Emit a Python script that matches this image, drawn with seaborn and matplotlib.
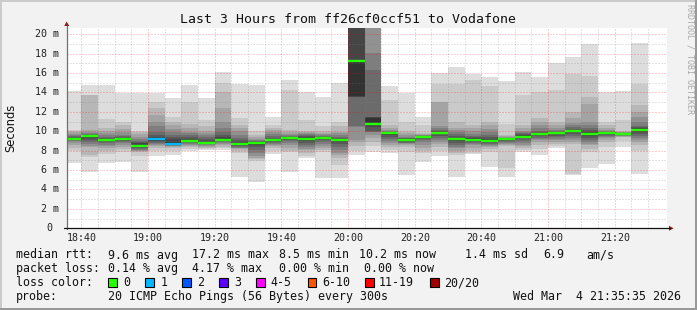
import numpy as np
import matplotlib
matplotlib.use("Agg")
import matplotlib.pyplot as plt
from matplotlib.patches import Rectangle, Polygon
from matplotlib.lines import Line2D
import matplotlib.transforms as mtrans
import seaborn as sns

# ---------------- data ----------------
title = "Last 3 Hours from ff26cf0ccf51 to Vodafone"

bar_end = ["18:40", "18:45", "18:50", "18:55", "19:00", "19:05", "19:10", "19:15",
           "19:20", "19:25", "19:30", "19:35", "19:40", "19:45", "19:50", "19:55",
           "20:00", "20:05", "20:10", "20:15", "20:20", "20:25", "20:30", "20:35",
           "20:40", "20:45", "20:50", "20:55", "21:00", "21:05", "21:10", "21:15",
           "21:20", "21:25", "21:30"]

# 20 sorted ping RTTs (ms) per 5-minute interval
pings_sorted = [
    [6.7, 8.0, 8.3, 8.6, 8.8, 8.95, 9.05, 9.1, 9.15, 9.18, 9.25, 9.3, 9.4, 9.5, 9.6, 9.75, 9.9, 10.0, 10.1, 14.16],
    [5.85, 7.4, 7.6, 8.4, 8.5, 8.7, 8.9, 9.1, 9.3, 9.5, 9.58, 9.6, 9.65, 9.7, 9.8, 9.95, 10.1, 13.7, 13.75, 14.77],
    [6.7, 7.7, 8.0, 8.3, 8.45, 8.6, 8.8, 8.9, 9.0, 9.1, 9.2, 9.25, 9.35, 9.45, 9.6, 9.8, 10.0, 10.3, 11.25, 14.77],
    [6.87, 7.9, 8.2, 8.4, 8.6, 8.8, 8.9, 9.0, 9.1, 9.15, 9.25, 9.3, 9.4, 9.5, 9.6, 9.9, 10.2, 10.65, 11.0, 13.92],
    [5.77, 7.5, 7.9, 7.95, 8.0, 8.1, 8.2, 8.3, 8.4, 8.45, 8.6, 8.8, 8.9, 9.0, 9.2, 9.4, 9.7, 9.9, 10.0, 13.92],
    [7.5, 8.0, 8.3, 8.5, 8.6, 8.7, 8.8, 8.9, 9.0, 9.1, 9.3, 9.4, 9.62, 9.9, 10.5, 11.0, 11.68, 12.37, 13.06, 13.92],
    [7.56, 8.0, 8.3, 8.4, 8.45, 8.5, 8.55, 8.6, 8.65, 8.7, 8.9, 9.2, 9.4, 9.6, 9.9, 10.2, 10.6, 11.0, 11.5, 13.4],
    [7.97, 8.2, 8.35, 8.5, 8.6, 8.7, 8.8, 8.85, 8.9, 8.95, 9.1, 9.25, 9.4, 9.6, 9.8, 9.96, 10.3, 10.8, 13.0, 14.77],
    [8.06, 8.2, 8.3, 8.4, 8.5, 8.6, 8.65, 8.7, 8.75, 8.8, 8.9, 9.0, 9.2, 9.4, 9.6, 9.8, 10.0, 10.5, 11.2, 13.4],
    [8.05, 8.25, 8.4, 8.6, 8.7, 8.8, 8.9, 8.95, 9.0, 9.05, 9.2, 9.4, 9.6, 9.9, 10.3, 11.0, 12.4, 14.1, 14.95, 16.08],
    [5.32, 7.8, 8.0, 8.15, 8.25, 8.3, 8.4, 8.5, 8.6, 8.7, 8.8, 8.9, 9.1, 9.3, 9.6, 10.0, 10.3, 10.65, 11.34, 14.84],
    [4.8, 6.9, 7.1, 7.25, 7.5, 7.8, 8.1, 8.4, 8.6, 8.75, 8.87, 8.9, 8.95, 9.0, 9.1, 9.2, 9.4, 9.6, 10.0, 14.77],
    [7.7, 8.0, 8.3, 8.5, 8.6, 8.7, 8.8, 8.9, 9.0, 9.05, 9.15, 9.25, 9.35, 9.5, 9.7, 9.9, 10.1, 10.3, 10.65, 11.51],
    [5.84, 7.9, 8.0, 8.3, 8.6, 8.8, 9.0, 9.1, 9.2, 9.3, 9.37, 9.4, 9.45, 9.5, 9.6, 9.75, 9.9, 10.1, 14.26, 15.29],
    [7.2, 7.5, 7.8, 8.1, 8.2, 8.4, 8.6, 8.8, 9.0, 9.15, 9.3, 9.4, 9.5, 9.6, 9.7, 9.8, 9.9, 10.0, 11.2, 14.1],
    [5.15, 7.9, 8.1, 8.3, 8.5, 8.7, 8.9, 9.1, 9.2, 9.3, 9.4, 9.42, 9.45, 9.5, 9.6, 9.7, 9.8, 10.0, 10.5, 13.57],
    [5.22, 6.5, 7.2, 7.6, 7.8, 8.1, 8.4, 8.7, 8.9, 9.05, 9.15, 9.25, 9.35, 9.45, 9.6, 9.8, 9.96, 10.5, 10.93, 14.95],
    [7.6, 8.0, 8.5, 8.9, 9.1, 10.45, 10.5, 13.5, 13.55, 13.6, 17.3, 21.5, 22.0, 22.5, 23.0, 23.5, 24.0, 24.5, 25.0, 26.0],
    [7.9, 8.5, 8.9, 9.3, 9.6, 9.9, 9.95, 10.0, 10.4, 10.6, 11.4, 11.45, 11.5, 16.3, 18.1, 21.5, 22.0, 22.5, 23.0, 24.0],
    [7.8, 8.1, 8.4, 8.6, 8.8, 9.0, 9.2, 9.4, 9.6, 9.8, 9.88, 9.9, 9.93, 9.96, 10.0, 10.1, 10.3, 10.65, 13.2, 14.67],
    [5.5, 7.9, 8.4, 8.6, 8.7, 8.75, 8.8, 8.9, 9.0, 9.1, 9.2, 9.25, 9.3, 9.35, 9.45, 9.6, 9.8, 10.0, 11.0, 13.98],
    [6.8, 7.73, 8.0, 8.3, 8.6, 8.9, 9.1, 9.2, 9.35, 9.4, 9.47, 9.5, 9.52, 9.55, 9.6, 9.65, 9.7, 9.8, 10.65, 11.51],
    [7.5, 8.0, 8.4, 8.7, 8.9, 9.1, 9.3, 9.5, 9.7, 9.8, 9.9, 9.95, 10.0, 10.1, 10.3, 10.5, 13.0, 13.06, 14.84, 15.98],
    [5.32, 7.56, 7.8, 8.0, 8.25, 8.4, 8.6, 8.8, 9.0, 9.2, 9.3, 9.35, 9.5, 9.7, 9.9, 10.1, 10.3, 10.93, 14.84, 16.66],
    [7.65, 7.8, 8.0, 8.3, 8.6, 8.7, 8.8, 8.9, 9.0, 9.1, 9.2, 9.3, 9.4, 9.5, 9.7, 10.0, 10.3, 10.65, 15.29, 15.87],
    [6.35, 7.9, 8.2, 8.4, 8.5, 8.6, 8.7, 8.8, 8.9, 8.95, 9.1, 9.2, 9.4, 9.6, 9.9, 10.2, 10.6, 11.0, 14.67, 15.63],
    [5.32, 6.18, 8.5, 8.6, 8.7, 8.8, 8.9, 9.0, 9.1, 9.15, 9.2, 9.22, 9.25, 9.3, 9.35, 9.4, 9.5, 9.62, 10.76, 15.19],
    [7.9, 8.1, 8.3, 8.45, 8.6, 8.8, 9.0, 9.2, 9.3, 9.4, 9.5, 9.6, 9.7, 9.8, 9.9, 10.0, 10.3, 10.65, 13.74, 16.08],
    [7.56, 8.2, 8.6, 8.9, 9.1, 9.2, 9.35, 9.5, 9.6, 9.7, 9.8, 9.85, 9.9, 10.0, 10.3, 10.6, 11.0, 11.34, 14.1, 15.63],
    [8.25, 8.5, 8.7, 8.9, 9.1, 9.25, 9.4, 9.55, 9.7, 9.8, 9.9, 9.92, 9.95, 10.0, 10.1, 10.3, 10.6, 11.0, 14.26, 17.0],
    [5.5, 5.6, 8.7, 8.9, 9.1, 9.3, 9.5, 9.7, 9.9, 10.0, 10.1, 10.15, 10.25, 10.4, 10.65, 10.9, 11.4, 12.0, 15.87, 17.7],
    [6.25, 7.9, 8.2, 8.6, 8.7, 8.9, 9.1, 9.3, 9.5, 9.7, 9.85, 9.95, 10.1, 10.3, 10.6, 11.0, 12.8, 13.57, 15.73, 18.97],
    [6.6, 8.4, 8.9, 9.1, 9.3, 9.4, 9.5, 9.6, 9.7, 9.8, 9.87, 9.9, 9.92, 9.95, 10.0, 10.1, 10.3, 10.6, 11.0, 14.1],
    [8.4, 9.0, 9.4, 9.45, 9.5, 9.55, 9.6, 9.65, 9.7, 9.74, 9.78, 9.79, 9.8, 9.82, 9.85, 9.9, 9.95, 10.0, 11.2, 14.16],
    [5.56, 8.0, 8.6, 8.9, 9.1, 9.3, 9.5, 9.7, 9.9, 10.1, 10.25, 10.3, 10.4, 10.5, 11.0, 11.5, 12.0, 12.7, 14.84, 19.07],
]

median_rtt = [9.2, 9.55, 9.14, 9.25, 8.52, 9.25, 8.71, 9.02, 8.83, 9.1, 8.73, 8.83, 9.1,
              9.35, 9.2, 9.35, 9.1, 17.2, 10.8, 9.86, 9.14, 9.45, 9.86, 9.24, 9.14, 9.0,
              9.17, 9.45, 9.76, 9.86, 10.03, 9.76, 9.83, 9.76, 10.17]

loss_count = [0, 0, 0, 0, 0, 1, 1, 0, 0, 0, 0, 0, 0, 0, 0, 0, 0, 0, 0, 0, 0, 0, 0, 0,
              0, 0, 0, 0, 0, 0, 0, 0, 0, 0, 0]

window_start = "18:35:35"
window_end = "21:35:35"
xtick_labels = ["18:40", "19:00", "19:20", "19:40", "20:00", "20:20", "20:40", "21:00", "21:20"]
ytick_values = [0, 2, 4, 6, 8, 10, 12, 14, 16, 18, 20]
ytick_labels = ["0", "2 m", "4 m", "6 m", "8 m", "10 m", "12 m", "14 m", "16 m", "18 m", "20 m"]
y_top = 20.68

loss_labels = ["0", "1", "2", "3", "4-5", "6-10", "11-19", "20/20"]
loss_colors = ["#26ff00", "#00b8ff", "#0059ff", "#5e00ff", "#ff00ff", "#ff5500", "#ff0000", "#a00000"]

rtt_items = ["9.6 ms avg", "17.2 ms max", "8.5 ms min", "10.2 ms now", "1.4 ms sd", "6.9", "am/s"]
loss_items = ["0.14 % avg", "4.17 % max", "0.00 % min", "0.00 % now"]
probe_text = "20 ICMP Echo Pings (56 Bytes) every 300s"
stamp_text = "Wed Mar  4 21:35:35 2026"

# ---------------- style ----------------
sns.set_style("white")
plt.rcParams["font.family"] = ["DejaVu Sans Mono", "DejaVu Sans"]

BACK = "#f2f2f2"
W, H = 697, 310


def fx(px):
    return px / W


def fy(py):
    return 1 - py / H


def to_min(s):
    parts = [int(p) for p in s.split(":")]
    v = parts[0] * 60 + parts[1] - 18 * 60
    if len(parts) > 2:
        v += parts[2] / 60
    return v


fig = plt.figure(figsize=(W / 100, H / 100), dpi=100, facecolor=BACK)
ax = fig.add_axes([fx(66.7), fy(228.3), (666.7 - 66.7) / W, (228.3 - 27.7) / H])
ax.set_facecolor("white")

P = np.array(pings_sorted)
ends = np.array([to_min(t) for t in bar_end])
x0, x1 = to_min(window_start), to_min(window_end)

# smoke: band i spans ping i .. ping 21-i, darker towards the middle
half = 10
for i in range(half):
    g = (int(190 / half * (half - (i + 1))) + 50) / 255
    ax.bar(ends - 5, P[:, 19 - i] - P[:, i], bottom=P[:, i], width=5, align="edge",
           color=(g, g, g), linewidth=0, antialiased=False, zorder=2)

# grid (drawn over the smoke, as rrdtool does)
dot = (0, (1, 2))
minor_c = (0.5, 0.5, 0.5, 0.42)
major_c = (1.0, 0.0, 0.0, 0.38)
xt = [to_min(t) for t in xtick_labels]
for v in np.arange(1, 21, 1):
    ax.axhline(v, color=major_c if v % 2 == 0 else minor_c, lw=0.72, ls=dot, zorder=3)
for m in np.arange(40, 215, 5):
    ax.axvline(m, color=major_c if m in xt else minor_c, lw=0.72, ls=dot, zorder=3)

# median line coloured by loss
med_cols = [loss_colors[c] if c < 4 else loss_colors[4] for c in loss_count]
ax.hlines(median_rtt, ends - 5, ends, colors=med_cols, lw=1.7, zorder=5)

ax.set_xlim(x0, x1)
ax.set_ylim(0, y_top)
for s in ax.spines.values():
    s.set_visible(False)

ax.set_xticks(xt)
ax.set_xticklabels(xtick_labels)
ax.tick_params(axis="x", length=0, pad=3.2, labelsize=7.2, colors="#222222")
ax.set_yticks(ytick_values)
ax.set_yticklabels([])
ax.tick_params(axis="y", length=2.2, width=0.72, color="#444444", direction="out")

# y tick labels laid out like rrdtool's column ("0" sits in the units column)
ytrans = mtrans.blended_transform_factory(fig.transFigure, ax.transData)
for v, lab in zip(ytick_values, ytick_labels):
    padded = lab if len(lab) == 4 else " " * (4 - len(lab) if " m" in lab else 3 - len(lab)) + lab
    ax.text(fx(35.2), v, padded, transform=ytrans, ha="left", va="center",
            fontsize=7.2, color="#222222", clip_on=False)

# axis lines and arrows
fig.add_artist(Line2D([fx(66.7), fx(66.7)], [fy(228.8), fy(25.5)], color="#707070", lw=0.9))
fig.add_artist(Line2D([fx(64), fx(669.5)], [fy(228.3), fy(228.3)], color="#111111", lw=0.9))
arrow_c = "#8b1e1e"
fig.add_artist(Polygon([[fx(64.2), fy(26.0)], [fx(69.2), fy(26.0)], [fx(66.7), fy(21.5)]],
                       closed=True, color=arrow_c, lw=0))
fig.add_artist(Polygon([[fx(669.0), fy(225.8)], [fx(669.0), fy(230.8)], [fx(673.6), fy(228.3)]],
                       closed=True, color=arrow_c, lw=0))

# texts
fig.text(0.5, fy(19.2), title, ha="center", va="center", fontsize=9.5, color="#111111")
fig.text(fx(10.5), fy(128), "Seconds", rotation=90, ha="center", va="center",
         fontsize=8.3, color="#111111", family=["DejaVu Sans"])
fig.text(fx(690), fy(59), "RRDTOOL / TOBI OETIKER", rotation=270, ha="center", va="center",
         fontsize=6.0, color="#a8a8a8")

fs = 8.4
lc = "#111111"
fig.text(fx(16), fy(255), "median rtt:", ha="left", va="center", fontsize=fs, color=lc)
for x, s in zip([107.6, 192.4, 279.1, 359.1, 465.3, 543.1, 586.7], rtt_items):
    fig.text(fx(x), fy(255), s, ha="left", va="center", fontsize=fs, color=lc)
fig.text(fx(16), fy(268.5), "packet loss:", ha="left", va="center", fontsize=fs, color=lc)
for x, s in zip([107.6, 192.4, 279.1, 364.4], loss_items):
    fig.text(fx(x), fy(268.5), s, ha="left", va="center", fontsize=fs, color=lc)
fig.text(fx(16), fy(282.5), "loss color:", ha="left", va="center", fontsize=fs, color=lc)
box_x = [108.0, 145.3, 182.2, 219.0, 256.4, 307.6, 365.3, 430.2]
lab_x = [123.0, 160.4, 196.9, 234.2, 270.7, 321.8, 379.1, 444.4]
for bx, tx_, lab, col in zip(box_x, lab_x, loss_labels, loss_colors):
    fig.add_artist(Rectangle((fx(bx), fy(287.0)), 8.5 / W, 8.7 / H, facecolor=col,
                             edgecolor="#000000", lw=0.8))
    fig.text(fx(tx_), fy(282.5), lab, ha="left", va="center", fontsize=fs, color=lc)
fig.text(fx(16), fy(296.3), "probe:", ha="left", va="center", fontsize=fs, color=lc)
fig.text(fx(107.6), fy(296.3), probe_text, ha="left", va="center", fontsize=fs, color=lc)
fig.text(fx(681), fy(296.3), stamp_text, ha="right", va="center", fontsize=fs, color=lc)

# 3-D frame of the rrdtool canvas
fig.add_artist(Rectangle((0, fy(2)), 1, 2 / H, facecolor="#cbcbcb", lw=0))
fig.add_artist(Rectangle((0, 0), 2 / W, 1, facecolor="#cbcbcb", lw=0))
fig.add_artist(Rectangle((0, 0), 1, 2 / H, facecolor="#999999", lw=0))
fig.add_artist(Rectangle((1 - 2 / W, 0), 2 / W, 1, facecolor="#999999", lw=0))

fig.savefig("out.png", dpi=100, facecolor=fig.get_facecolor())
